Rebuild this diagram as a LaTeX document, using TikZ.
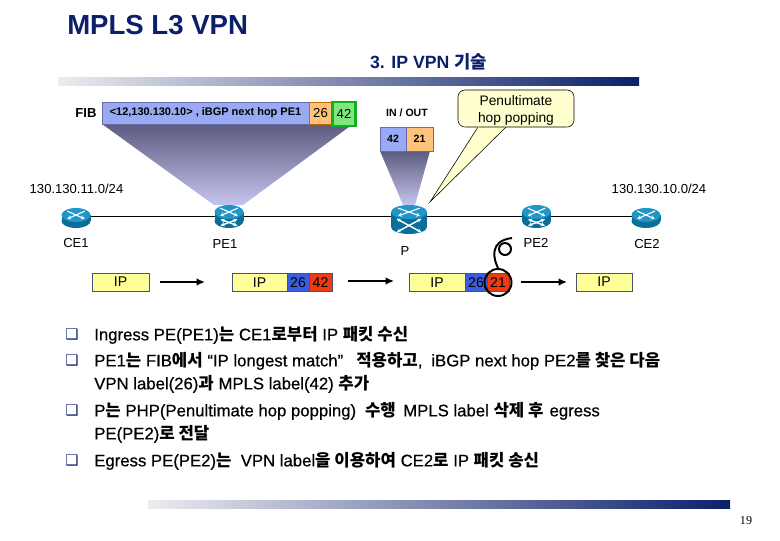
\documentclass[tikz,border=0pt]{standalone}
\usepackage{fontspec}
\setmainfont{Liberation Sans}
\newfontfamily\cjk{Noto Sans CJK KR}
\newfontfamily\itemfont[FakeBold=0.5]{Liberation Sans}
\newfontfamily\serifnum{Liberation Serif}
\newfontfamily\dingfont{DejaVu Sans}
\usepackage{xcolor}
\usetikzlibrary{arrows.meta,calc,positioning}
\definecolor{slidenavy}{HTML}{0B1F6B}
\definecolor{barmid}{HTML}{8C8CA8}
\definecolor{barlight}{HTML}{ECECF0}
\definecolor{fibblue}{HTML}{99AAF5}
\definecolor{fibedge}{HTML}{6A6AA8}
\definecolor{cellorange}{HTML}{FFC27A}
\definecolor{cellgreen}{HTML}{80E680}
\definecolor{edgegreen}{HTML}{10B020}
\definecolor{funneltop}{HTML}{5C5C80}
\definecolor{funnelend}{HTML}{C4C4EE}
\definecolor{notepale}{HTML}{FFFFD0}
\definecolor{packyellow}{HTML}{FFFF99}
\definecolor{packblue}{HTML}{3A5CE0}
\definecolor{packred}{HTML}{EE3A10}
\definecolor{packedge}{HTML}{505070}
\definecolor{routerbody}{HTML}{0B6E9A}
\definecolor{routertop}{HTML}{1E96C8}
\newcommand{\kfs}[1]{\fontsize{#1}{#1}\selectfont}
\newcommand{\kr}[1]{{\cjk\bfseries #1}}
\begin{document}
\begin{tikzpicture}[x=0.025cm,y=-0.025cm,
  cell/.style={draw=packedge,minimum height=18*0.025cm,inner sep=0pt,font=\kfs{10}},
  fibcell/.style={draw=fibedge,fill=fibblue,minimum height=22*0.025cm,inner sep=0pt,font=\kfs{7.8}\bfseries},
  lspcell/.style={draw=fibedge,fill=fibblue,minimum height=24*0.025cm,inner sep=0pt,font=\kfs{7.5}\bfseries},
  netlabel/.style={font=\kfs{9.3},inner sep=0pt},
  item/.style={anchor=west,font=\itemfont\kfs{11.9},inner sep=0pt},
  tick/.style={anchor=center,font=\dingfont\kfs{10.5},text=slidenavy,inner sep=0pt},
  hub/.style={minimum width=29*0.025cm,minimum height=21*0.025cm,inner sep=0pt},
  flow/.style={-{Latex[length=6pt,width=5.5pt]},line width=1.3pt},
  turn/.style={white,line width=.8pt,-{Stealth[length=2.6pt,width=3pt]}},
  pics/router/.style n args={3}{code={
    \fill[routerbody] (0,#3) ellipse [x radius=#1*0.025cm,y radius=#2*0.025cm];
    \fill[routerbody] (-#1,-#3) rectangle (#1,#3);
    \fill[routertop] (0,-#3) ellipse [x radius=#1*0.025cm,y radius=#2*0.025cm];
    \draw[turn] (-#1*.6,-#3-#2*.55) -- (#1*.6,-#3+#2*.55);
    \draw[turn] (#1*.6,-#3-#2*.55) -- (-#1*.6,-#3+#2*.55);
  }},
  pics/crossing/.style 2 args={code={
    \draw[turn] (-#1,-#2) -- (#1,#2);
    \draw[turn] (-#1,#2) -- (#1,-#2);
    \draw[turn] (#1,-#2) -- (-#1,#2);
    \draw[turn] (#1,#2) -- (-#1,-#2);
  }}]
  \useasboundingbox (0,0) rectangle (780,540);
  \node[anchor=west,inner sep=0pt,font=\kfs{19.6}\bfseries,text=slidenavy] (title) at (67,25) {MPLS L3 VPN};
  \node[inner sep=0pt,font=\kfs{12.6}\bfseries,text=slidenavy] (subtitle) at (428.5,62) {3. IP VPN {\cjk 기술}};
  \fill[left color=barlight,middle color=barmid,right color=slidenavy] (58,77) rectangle (639,85);
  \fill[left color=barlight,middle color=barmid,right color=slidenavy] (148,500) rectangle (730,508);
  \node[inner sep=0pt,font=\kfs{9.3}\bfseries] (fib) at (86,113) {FIB};
  \shade[top color=funneltop,bottom color=funnelend] (102,124) -- (353,124) -- (243,205) -- (214,205) -- cycle;
  \shade[top color=funneltop,bottom color=funnelend] (380,151) -- (430,151) -- (415,205) -- (403,205) -- cycle;
  \node[fibcell,minimum width=207*0.025cm] (route) at (205.5,113) {<12,130.130.10> , iBGP next hop PE1};
  \node[fibcell,draw=orange!80!black,fill=cellorange,minimum width=23*0.025cm,font=\kfs{9.3}] (vpn26) at (320.5,113) {26};
  \node[fibcell,draw=edgegreen,line width=1.6pt,fill=cellgreen,minimum width=23*0.025cm,minimum height=24*0.025cm,font=\kfs{9.3}] (mpls42) at (344,114) {42};
  \node[inner sep=0pt,font=\kfs{7.5}\bfseries] (inout) at (407,113) {IN / OUT};
  \node[lspcell,minimum width=26*0.025cm] (in42) at (393,139) {42};
  \node[lspcell,fill=cellorange,minimum width=27*0.025cm] (out21) at (419.5,139) {21};
  \coordinate (tip) at (430,202);
  \node[draw=black,fill=notepale,rounded corners=5pt,minimum width=116*0.025cm,minimum height=37*0.025cm,inner sep=0pt,align=center,font=\kfs{9.8}] (note) at (516,108.5) {\rule{0pt}{10pt}Penultimate\\[2.4pt]hop popping};
  \fill[notepale] (478,126) -- (tip) -- (506,126) -- (505,128) -- (479,128) -- cycle;
  \draw[line width=.4pt] (478,127) -- (tip) -- (506,127);
  \node[netlabel] (netleft) at (76.5,189) {130.130.11.0/24};
  \node[netlabel] (netright) at (659,189) {130.130.10.0/24};
  \node[hub] (ce1) at (76,216.5) {};
  \node[hub] (pe1) at (229,216.5) {};
  \node[hub,minimum width=36*0.025cm] (p) at (409,216.5) {};
  \node[hub] (pe2) at (536.5,216.5) {};
  \node[hub] (ce2) at (646,216.5) {};
  \draw[line width=.6pt] (ce1.center) -- (pe1.center) -- (p.center) -- (pe2.center) -- (ce2.center);
  \pic at ($(ce1)+(0,1.5)$) {router={14.5}{7}{3}};
  \pic at (pe1) {router={14.5}{7}{4.5}};
  \pic at ($(p)+(0,3)$) {router={18}{7}{7.5}};
  \pic at (pe2) {router={14.5}{7}{4.5}};
  \pic at ($(ce2)+(0,1.5)$) {router={14.5}{7}{3}};
  \pic at ($(pe1)+(0,6)$) {crossing={8}{3}};
  \pic at ($(p)+(0,9)$) {crossing={12}{6.5}};
  \pic at ($(pe2)+(0,6)$) {crossing={8}{3}};
  \node[netlabel] (labce1) at (76,243) {CE1};
  \node[netlabel] (labpe1) at (225,244) {PE1};
  \node[netlabel] (labp) at (405,251) {P};
  \node[netlabel] (labpe2) at (536,243) {PE2};
  \node[netlabel] (labce2) at (647,244) {CE2};
  \node[cell,fill=packyellow,minimum width=57*0.025cm] (ip1) at (120.5,282) {IP};
  \node[cell,fill=packyellow,minimum width=55*0.025cm] (ip2) at (259.5,282.5) {IP};
  \node[cell,fill=packblue,minimum width=22*0.025cm] (lab26a) at (298,282.5) {26};
  \node[cell,fill=packred,minimum width=23*0.025cm] (lab42) at (320.5,282.5) {42};
  \node[cell,fill=packyellow,minimum width=56*0.025cm] (ip3) at (437,282.5) {IP};
  \node[cell,fill=packblue,minimum width=22*0.025cm] (lab26b) at (476,282.5) {26};
  \node[cell,fill=packred,minimum width=22*0.025cm] (lab21) at (498,282.5) {21};
  \node[cell,fill=packyellow,minimum width=56*0.025cm] (ip4) at (604,282) {IP};
  \node[circle,draw,line width=1.4pt,minimum size=27*0.025cm,inner sep=0pt] (ring) at (lab21) {};
  \coordinate (curl) at (512,238);
  \draw[line width=1.4pt] (ring.north) .. controls (494,260) and (488,241) .. (curl);
  \draw[line width=1.4pt] (505,249) circle [radius=6*0.025cm];
  \coordinate (a1s) at (160,282);
  \coordinate (a1e) at (205,282);
  \coordinate (a2s) at (348,281);
  \coordinate (a2e) at (394,281);
  \coordinate (a3s) at (521,282);
  \coordinate (a3e) at (567,282);
  \draw[flow] (a1s) -- (a1e);
  \draw[flow] (a2s) -- (a2e);
  \draw[flow] (a3s) -- (a3e);
  \node[tick] (t1) at (72,334) {❑};
  \node[tick] (t2) at (72,360) {❑};
  \node[tick] (t3) at (72,410) {❑};
  \node[tick] (t4) at (72,460) {❑};
  \node[item] (l1) at (94,335) {Ingress PE(PE1)\kr{는} CE1\kr{로부터} IP \kr{패킷 수신}};
  \node[item] (l2) at (94,361) {PE1\kr{는} FIB\kr{에서} “IP longest match” \hspace{6pt}\kr{적용하고}, \hspace{3pt}iBGP next hop PE2\kr{를 찾은 다음}};
  \node[item] (l3) at (94,384) {VPN label(26)\kr{과} MPLS label(42) \kr{추가}};
  \node[item] (l4) at (94,411) {P\kr{는} PHP(Penultimate hop popping) \hspace{3pt}\kr{수행} \hspace{2pt}MPLS label \kr{삭제 후} \hspace{1pt}egress};
  \node[item] (l5) at (94,434) {PE(PE2)\kr{로 전달}};
  \node[item] (l6) at (94,461) {Egress PE(PE2)\kr{는}\ \ VPN label\kr{을 이용하여} CE2\kr{로} IP \kr{패킷 송신}};
  \node[inner sep=0pt,font=\serifnum\kfs{8.6}] (pageno) at (746,521) {19};
\end{tikzpicture}
\end{document}
